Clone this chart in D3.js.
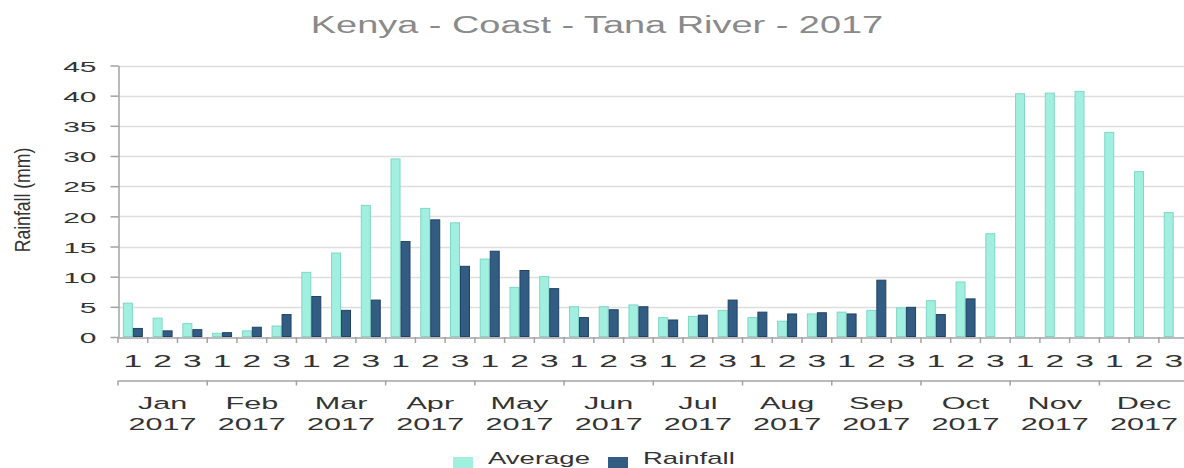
<!DOCTYPE html>
<html>
<head>
<meta charset="utf-8">
<script src="https://cdn.jsdelivr.net/npm/d3@7"></script>
<style>
  body { margin: 0; background: #fff; }
  svg { display: block; font-family: "Liberation Sans", Arial, sans-serif; }
</style>
</head>
<body>
<div id="chart"></div>
<script>
// values, one per dekad (3 per month)
const months = ["Jan", "Feb", "Mar", "Apr", "May", "Jun", "Jul", "Aug", "Sep", "Oct", "Nov", "Dec"];
const year = "2017";
const dekads = ["1", "2", "3"];
const average = [
  5.7, 3.2, 2.3, 0.7, 1.1, 1.9, 10.8, 14.0, 21.9, 29.6, 21.4, 19.0,
  13.0, 8.3, 10.1, 5.1, 5.1, 5.4, 3.3, 3.5, 4.5, 3.3, 2.7, 3.9,
  4.2, 4.5, 4.9, 6.1, 9.2, 17.2, 40.4, 40.5, 40.8, 34.0, 27.5, 20.7,
];
const rainfall = [
  1.5, 1.1, 1.3, 0.8, 1.7, 3.8, 6.8, 4.5, 6.2, 15.9, 19.5, 11.8,
  14.3, 11.1, 8.1, 3.3, 4.6, 5.1, 2.9, 3.7, 6.2, 4.2, 3.9, 4.1,
  3.9, 9.5, 5.0, 3.8, 6.4, null, null, null, null, null, null, null,
];
const yTicks = [0, 5, 10, 15, 20, 25, 30, 35, 40, 45];
const seriesNames = ["Average", "Rainfall"];

const width = 1184;
const height = 468;
const plot = { left: 118, right: 1188.6, top: 65.5, bottom: 337 };
const colors = {
  Average: { fill: "#a1efdf", stroke: "#7fd7c6" },
  Rainfall: { fill: "#335c83", stroke: "#1f4267" },
};
const axisColor = "#a3a3a3";
const textColor = "#333";

const svg = d3
  .select("#chart")
  .append("svg")
  .attr("width", width)
  .attr("height", height);

const x = d3
  .scaleBand()
  .domain(d3.range(months.length * dekads.length))
  .range([plot.left, plot.right]);

const xs = d3
  .scaleBand()
  .domain(seriesNames)
  .range([0, x.bandwidth()])
  .paddingOuter(0.49);

const xm = d3.scaleBand().domain(months).range([plot.left, plot.right]);

const y = d3.scaleLinear().domain([0, 45]).range([plot.bottom, plot.top]);

// title
svg
  .append("text")
  .attr("transform", `translate(597,33) scale(1.58,1)`)
  .attr("text-anchor", "middle")
  .attr("font-size", 24)
  .attr("fill", "#8a8a8a")
  .text(`Kenya - Coast - Tana River - ${year}`);

// grid
svg
  .append("g")
  .selectAll("line")
  .data(yTicks.slice(1))
  .join("line")
  .attr("x1", plot.left)
  .attr("x2", width)
  .attr("y1", (d) => Math.round(y(d)) + 0.5)
  .attr("y2", (d) => Math.round(y(d)) + 0.5)
  .attr("stroke", "#dedede")
  .attr("stroke-width", 1.5);

// bars
const groups = svg
  .append("g")
  .selectAll("g")
  .data(average.map((a, i) => ({ i, Average: a, Rainfall: rainfall[i] })))
  .join("g")
  .attr("transform", (d) => `translate(${x(d.i)},0)`);

groups
  .selectAll("rect")
  .data((d) =>
    seriesNames
      .filter((k) => d[k] != null)
      .map((k) => ({ key: k, value: d[k] }))
  )
  .join("rect")
  .attr("x", (d) => xs(d.key) + 0.5)
  .attr("width", xs.bandwidth() - 1)
  .attr("y", (d) => y(d.value) + 0.5)
  .attr("height", (d) => Math.max(0, y(0) - y(d.value) - 1))
  .attr("fill", (d) => colors[d.key].fill)
  .attr("stroke", (d) => colors[d.key].stroke)
  .attr("stroke-width", 1);

// y axis
const yAxis = svg
  .append("g")
  .attr("transform", `translate(${plot.left + 0.5},0)`)
  .call(d3.axisLeft(y).tickValues(yTicks).tickSize(8).tickSizeOuter(0).tickPadding(14));
yAxis.select(".domain").attr("stroke", axisColor).attr("stroke-width", 1.5);
yAxis.selectAll(".tick line").attr("stroke", axisColor).attr("stroke-width", 1.5);
yAxis
  .selectAll(".tick text")
  .attr("x", null)
  .attr("transform", "translate(-22,1) scale(2,1)")
  .attr("font-size", 15)
  .attr("fill", textColor);

svg
  .append("text")
  .attr("transform", "translate(30,200) rotate(-90) scale(1.1,1.4)")
  .attr("text-anchor", "middle")
  .attr("font-size", 16)
  .attr("fill", textColor)
  .text("Rainfall (mm)");

// dekad axis
const xAxis = svg
  .append("g")
  .attr("transform", `translate(0,${plot.bottom + 0.5})`)
  .call(d3.axisBottom(x).tickSize(0).tickSizeOuter(0).tickFormat((i) => dekads[i % 3]));
xAxis.select(".domain").attr("stroke", axisColor).attr("stroke-width", 1.5);
xAxis
  .selectAll(".tick text")
  .attr("y", null)
  .attr("dy", null)
  .attr("transform", "translate(0,29) scale(2.1,1)")
  .attr("font-size", 16)
  .attr("fill", textColor);

const catEdges = x.domain().map((i) => x(i)).concat(plot.right);
svg
  .append("g")
  .selectAll("line")
  .data(catEdges)
  .join("line")
  .attr("x1", (d) => d)
  .attr("x2", (d) => d)
  .attr("y1", plot.bottom)
  .attr("y2", plot.bottom + 6)
  .attr("stroke", axisColor)
  .attr("stroke-width", 1.5);

// month axis
const monthY = 380.5;
const mAxis = svg
  .append("g")
  .attr("transform", `translate(0,${monthY})`)
  .call(d3.axisBottom(xm).tickSize(0).tickSizeOuter(0));
mAxis.select(".domain").attr("stroke", axisColor).attr("stroke-width", 1.5);
const mText = mAxis
  .selectAll(".tick text")
  .attr("y", null)
  .attr("dy", null)
  .attr("transform", "translate(0,28.5) scale(1.8,1)")
  .attr("font-size", 17)
  .attr("fill", textColor)
  .text(null);
mText.append("tspan").attr("x", 0).attr("y", 0).text((d) => d);
mText.append("tspan").attr("x", 0).attr("y", 21.5).text(year);

const monthEdges = months.map((m) => xm(m)).concat(plot.right);
svg
  .append("g")
  .selectAll("line")
  .data(monthEdges)
  .join("line")
  .attr("x1", (d) => d)
  .attr("x2", (d) => d)
  .attr("y1", monthY)
  .attr("y2", monthY + 5)
  .attr("stroke", axisColor)
  .attr("stroke-width", 1.5);

// legend
const legendX = [453, 608];
const legend = svg
  .append("g")
  .selectAll("g")
  .data(seriesNames)
  .join("g")
  .attr("transform", (d, i) => `translate(${legendX[i]},0)`);
legend
  .append("rect")
  .attr("y", 457)
  .attr("width", 20)
  .attr("height", 11)
  .attr("fill", (d) => colors[d].fill);
legend
  .append("text")
  .attr("transform", "translate(35,464) scale(1.72,1)")
  .attr("font-size", 16)
  .attr("fill", textColor)
  .text((d) => d);
</script>
</body>
</html>
